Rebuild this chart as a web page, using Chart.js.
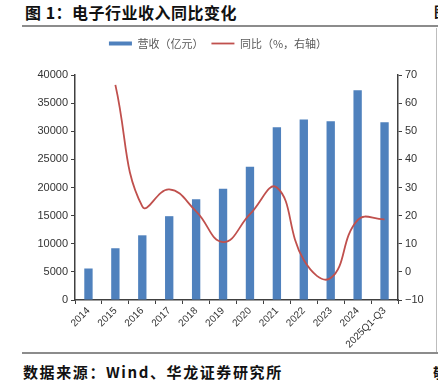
<!DOCTYPE html>
<html>
<head>
<meta charset="utf-8">
<script src="https://cdn.jsdelivr.net/npm/chart.js@4"></script>
<style>
  html, body { margin: 0; padding: 0; background: #fff; }
  body { width: 438px; height: 380px; position: relative; overflow: hidden; font-family: "Noto Sans CJK SC", sans-serif; }
  .title { position: absolute; left: 25px; top: 0px; font-size: 16px; font-weight: bold; color: #111; letter-spacing: 0.5px; white-space: nowrap; }
  .source { position: absolute; left: 23px; top: 361px; font-size: 15px; font-weight: bold; color: #111; letter-spacing: 1.6px; white-space: nowrap; }
  .rule { position: absolute; left: 22px; width: 416px; height: 2px; background: #8c8c8c; }
  .vrule { position: absolute; left: 436px; top: 28px; width: 1px; height: 326px; background: #bdbdbd; }
  .edge { position: absolute; font-size: 14px; font-weight: bold; color: #111; }
  #wrap { position: absolute; left: 0; top: 30px; width: 436px; height: 322px; }
</style>
</head>
<body>
<div class="title">图 1：电子行业收入同比变化</div>
<div class="edge" style="top:1px; left:434px;">图</div>
<div class="rule" style="top:25px;"></div>
<div class="vrule"></div>
<div id="wrap"><canvas id="chart"></canvas></div>
<div class="rule" style="top:352px;"></div>
<div class="source">数据来源：Wind、华龙证券研究所</div>
<div class="edge" style="top:362px; left:433px;">敬</div>
<script>
'use strict';

// категории и ряды
const years = ['2014', '2015', '2016', '2017', '2018', '2019', '2020', '2021', '2022', '2023', '2024', '2025Q1-Q3'];
const revenue = [5600, 9200, 11500, 14900, 17900, 19800, 23700, 30700, 32100, 31800, 37300, 31600];
const yoy = [null, 66.5, 23.3, 29.3, 21.5, 10.6, 20.5, 30, 4.2, -2.2, 18.4, 18.7];

const leftTicks = [0, 5000, 10000, 15000, 20000, 25000, 30000, 35000, 40000];
const rightTicks = [-10, 0, 10, 20, 30, 40, 50, 60, 70];

const axisColor = '#404040';
const tickFont = { family: 'Arial, "Liberation Sans", sans-serif', size: 11 };

// отступ под легендой
const legendGap = {
    id: 'legendGap',
    beforeInit(chart) {
        const fit = chart.legend.fit;
        chart.legend.fit = function () {
            fit.bind(chart.legend)();
            this.height += 16;
        };
    }
};

const ctx = document.getElementById('chart').getContext('2d');
new Chart(ctx, {
    data: {
        labels: years,
        datasets: [
            {
                type: 'line',
                label: '同比（%，右轴）',
                data: yoy,
                yAxisID: 'y1',
                borderColor: '#C0504D',
                backgroundColor: '#C0504D',
                borderWidth: 1.8,
                pointRadius: 0,
                pointStyle: 'line',
                tension: 0.45,
                order: 1
            },
            {
                type: 'bar',
                label: '营收（亿元）',
                data: revenue,
                yAxisID: 'y',
                backgroundColor: '#4F81BD',
                borderWidth: 0,
                barPercentage: 0.31,
                categoryPercentage: 1,
                pointStyle: 'rect',
                order: 2
            }
        ]
    },
    plugins: [legendGap],
    options: {
        responsive: true,
        maintainAspectRatio: false,
        animation: false,
        layout: { padding: 0 },
        plugins: {
            tooltip: { enabled: false },
            legend: {
                position: 'top',
                reverse: true,
                labels: {
                    usePointStyle: true,
                    pointStyleWidth: 23,
                    boxHeight: 4,
                    padding: 8,
                    color: '#595959',
                    font: { family: '"Noto Sans CJK SC", sans-serif', size: 11 }
                }
            }
        },
        scales: {
            x: {
                offset: true,
                grid: {
                    offset: true,
                    drawOnChartArea: false,
                    drawTicks: true,
                    tickLength: 4,
                    color: axisColor
                },
                border: { color: axisColor, width: 1.5 },
                ticks: {
                    color: '#333',
                    font: { family: tickFont.family, size: 10 },
                    maxRotation: 45,
                    minRotation: 45,
                    autoSkip: false,
                    padding: 1
                },
                afterFit: s => { s.height = 52; }
            },
            y: {
                position: 'left',
                min: 0,
                max: 40000,
                afterBuildTicks: s => { s.ticks = leftTicks.map(v => ({ value: v })); },
                grid: { drawOnChartArea: false, tickLength: 4, color: axisColor },
                border: { color: axisColor, width: 1.5 },
                ticks: { color: '#333', font: tickFont, padding: 3, callback: v => String(v) },
                afterFit: s => { s.width = 75; }
            },
            y1: {
                position: 'right',
                min: -10,
                max: 70,
                afterBuildTicks: s => { s.ticks = rightTicks.map(v => ({ value: v })); },
                grid: { drawOnChartArea: false, tickLength: 4, color: axisColor },
                border: { color: axisColor, width: 1.5 },
                ticks: {
                    color: '#333',
                    font: tickFont,
                    padding: 3,
                    callback: v => (v < 0 ? '\u2212' + Math.abs(v) : String(v))
                },
                afterFit: s => { s.width = 38; }
            }
        }
    }
});
</script>
</body>
</html>
